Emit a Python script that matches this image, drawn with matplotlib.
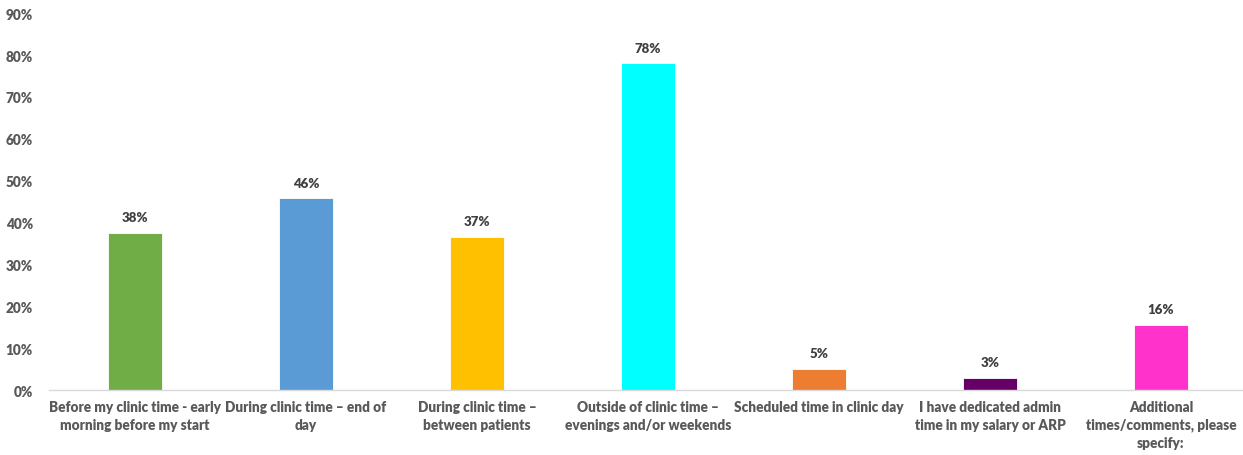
import numpy as np
import matplotlib
matplotlib.use('Agg')
import matplotlib.pyplot as plt
from matplotlib.ticker import MultipleLocator, PercentFormatter

categories = [ 'Before my clinic time - early\nmorning before my start',
               'During clinic time \u2013 end of\nday',
               'During clinic time \u2013\nbetween patients',
               'Outside of clinic time \u2013\nevenings and/or weekends',
               'Scheduled time in clinic day',
               'I have dedicated admin\ntime in my salary or ARP',
               'Additional\ntimes/comments, please\nspecify:' ]
values = [ 0.375, 0.458, 0.365, 0.780, 0.050, 0.029, 0.155 ]
value_labels = [ '38%', '46%', '37%', '78%', '5%', '3%', '16%' ]
colors = [ '#70AD47', '#5B9BD5', '#FFC000', '#00FFFF', '#ED7D31', '#660066', '#FF33CC' ]

textColor = '#595959'
plt.rcParams['font.family'] = [ 'Lato', 'DejaVu Sans' ]

fig = plt.figure( figsize = ( 12.43, 4.56 ), dpi = 100 )
ax = fig.add_axes( [ 0.0398, 0.1425, 0.963, 0.969 - 0.1425 ] )

x = np.arange( len( categories ) )
bars = ax.bar( x, values, width = 0.316, color = colors, edgecolor = 'white', linewidth = 0.6 )

for b, lab in zip( bars, value_labels ):
    ax.annotate( lab, xy = ( b.get_x() + b.get_width()/2, b.get_height() ), xytext = ( 0, 7 ),
                 textcoords = 'offset points', ha = 'center', va = 'bottom',
                 fontsize = 9.5, fontweight = 'heavy', color = '#404040' )

ax.set_xlim( -0.5, len( categories ) - 0.5 )
ax.set_ylim( 0, 0.9 )
ax.yaxis.set_major_locator( MultipleLocator( 0.1 ) )
ax.yaxis.set_major_formatter( PercentFormatter( 1.0, decimals = 0 ) )

ax.set_xticks( x )
ax.set_xticklabels( categories, fontsize = 9.8, fontweight = 'heavy', color = textColor, linespacing = 1.45 )
for t in ax.get_yticklabels():
    t.set_fontsize( 9.8 )
    t.set_fontweight( 'heavy' )
    t.set_color( textColor )

ax.tick_params( axis = 'both', length = 0 )
ax.tick_params( axis = 'x', pad = 7 )
ax.tick_params( axis = 'y', pad = 12 )

for s in [ 'top', 'right', 'left' ]:
    ax.spines[s].set_visible( False )
ax.spines['bottom'].set_color( '#D9D9D9' )
ax.spines['bottom'].set_linewidth( 1.0 )

plt.savefig( 'out.png', dpi = 100 )
